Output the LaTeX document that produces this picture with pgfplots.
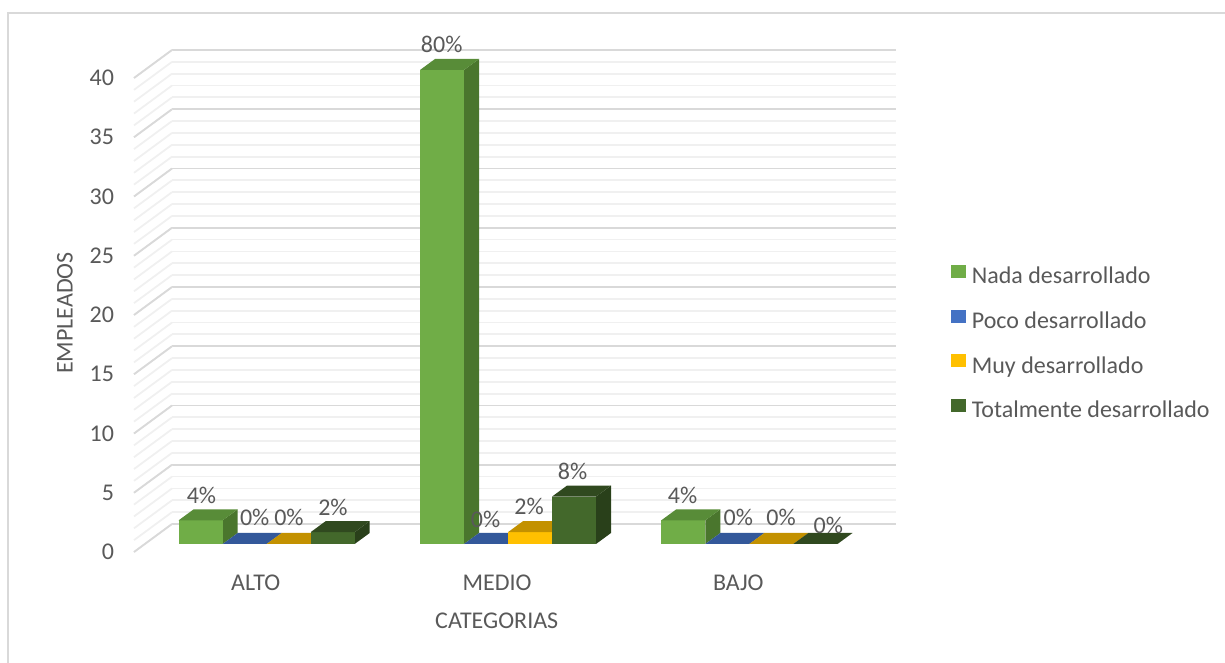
\documentclass[border=0pt]{standalone}
\usepackage{pgfplots}
\pgfplotsset{compat=1.18}
\usepackage{pgfplotstable}
\usepackage{fontspec}
\setmainfont{Carlito}

\definecolor{txt}{HTML}{595959}
\definecolor{marco}{HTML}{D9D9D9}
\definecolor{gmaj}{HTML}{D9D9D9}
\definecolor{gmin}{HTML}{F0F0F0}
% front / top / side shades of each series
\definecolor{nadaF}{HTML}{70AD47}\definecolor{nadaT}{HTML}{588C38}\definecolor{nadaS}{HTML}{4A762D}
\definecolor{pocoF}{HTML}{4472C4}\definecolor{pocoT}{HTML}{33589A}\definecolor{pocoS}{HTML}{2F5190}
\definecolor{muyF}{HTML}{FFC000}\definecolor{muyT}{HTML}{C39100}\definecolor{muyS}{HTML}{B08000}
\definecolor{totF}{HTML}{43682B}\definecolor{totT}{HTML}{30491F}\definecolor{totS}{HTML}{29401A}

% x = category (0 ALTO, 1 MEDIO, 2 BAJO), v = employees, pct = share,
% lx/ly = placement of the value label
\pgfplotstableread{
x v pct lx ly
0 2 4 -12.6 2.65
1 40 80 -13.15 3
2 2 4 -13.4 2.65
}\nada
\pgfplotstableread{
x v pct lx ly
0 0 0 -8 3.25
1 0 0 -13.25 2.25
2 0 0 -7.5 3.25
}\poco
\pgfplotstableread{
x v pct lx ly
0 0 0 -12.85 3.25
1 1 2 -13.5 2.75
2 0 0 -8.15 3.25
}\muy
\pgfplotstableread{
x v pct lx ly
0 1 2 -12.85 2.5
1 4 8 -13.75 2.5
2 0 0 -6.5 -0.75
}\total

% a 3-D column as a plot mark: the mark sits on the back plane at the
% column's value; the height comes from \valor (5.925pt per employee)
\newcommand{\declcaja}[4]{%
  \pgfdeclareplotmark{#1}{%
    \pgfmathsetlengthmacro\yf{-10pt-\valor*5.925pt}%
    \pgfmathsetlengthmacro\ys{-4.5pt-\valor*5.925pt}%
    \pgfsetfillcolor{#4}%
    \pgfpathmoveto{\pgfpoint{-2pt}{-10pt}}%
    \pgfpathlineto{\pgfpoint{5.5pt}{-4.5pt}}%
    \pgfpathlineto{\pgfpoint{5.5pt}{\ys}}%
    \pgfpathlineto{\pgfpoint{-2pt}{\yf}}%
    \pgfpathclose\pgfusepath{fill}%
    \pgfsetfillcolor{#2}%
    \pgfpathrectanglecorners{\pgfpoint{-24pt}{-10pt}}{\pgfpoint{-2pt}{\yf}}%
    \pgfusepath{fill}%
    \pgfsetfillcolor{#3}%
    \pgfpathmoveto{\pgfpoint{-24pt}{-10pt}}%
    \pgfpathlineto{\pgfpoint{-2pt}{-10pt}}%
    \pgfpathlineto{\pgfpoint{5.5pt}{-4.5pt}}%
    \pgfpathlineto{\pgfpoint{-16.5pt}{-4.5pt}}%
    \pgfpathclose\pgfusepath{fill}%
  }%
}
\declcaja{cajaNada}{nadaF}{nadaT}{nadaS}
\declcaja{cajaPoco}{pocoF}{pocoT}{pocoS}
\declcaja{cajaMuy}{muyF}{muyT}{muyS}
\declcaja{cajaTotal}{totF}{totT}{totS}

\pgfplotsset{
  columna/.style n args={3}{
    scatter, only marks, mark=#1,
    point meta=explicit,
    visualization depends on={\thisrow{v} \as \valor},
    x filter/.expression={x+#3},
    legend image code/.code={\fill[#2] (0pt,0.2pt) rectangle (7pt,6.2pt);},
  },
  % value labels, drawn after all columns so that none is hidden
  etiqueta/.style={
    draw=none, mark=none, forget plot,
    point meta=explicit,
    visualization depends on={\thisrow{lx} \as \lx},
    visualization depends on={\thisrow{ly} \as \ly},
    x filter/.expression={x+#1},
    nodes near coords={\pgfmathprintnumber{\pgfplotspointmeta}\%},
    every node near coord/.append style={anchor=center, text=txt,
      font=\fontsize{12}{14}\selectfont, xshift=\lx*1pt, yshift=\ly*1pt},
  },
}

\begin{document}
\begin{tikzpicture}
\path[use as bounding box] (-86pt,-69.5pt) rectangle (526.5pt,262pt);
\draw[line width=1pt, marco] (-82pt,-69.5pt) -- (-82pt,255.5pt) -- (526.5pt,255.5pt);
\begin{axis}[
  at={(0pt,0pt)}, anchor=south west,
  scale only axis, width=362pt, height=237pt,
  xmin=-0.5, xmax=2.5, ymin=0, ymax=40,
  enlargelimits=false, clip=false,
  axis line style={draw=none},
  major tick length=0pt, minor tick length=0pt,
  xtick={0,1,2}, xticklabels={ALTO,MEDIO,BAJO},
  ytick={0,5,...,40}, minor y tick num=4,
  ymajorgrids, yminorgrids,
  major grid style={gmaj, line width=0.9pt},
  minor grid style={gmin, line width=0.9pt},
  /pgf/number format/assume math mode=true,
  tick label style={text=txt, font=\fontsize{12}{14}\selectfont},
  yticklabel style={anchor=east, xshift=-25.5pt, yshift=-14pt},
  xticklabel style={anchor=center, xshift=-18.5pt, yshift=-29.5pt},
  ylabel={EMPLEADOS}, xlabel={CATEGORIAS},
  every axis y label/.style={at={(rel axis cs:-0.148,0.445)}, rotate=90,
    anchor=center, text=txt, font=\fontsize{12}{14}\selectfont},
  every axis x label/.style={at={(rel axis cs:0.4485,-0.2046)},
    anchor=center, text=txt, font=\fontsize{12}{14}\selectfont},
  legend style={at={(rel axis cs:1.076,0.5464)}, anchor=north west,
    draw=none, fill=none, inner sep=0pt, outer sep=0pt,
    row sep=10.45pt, text=txt, font=\fontsize{12}{14}\selectfont,
    nodes={inner xsep=3pt, inner ysep=0pt, text height=8.5pt, text depth=2.5pt}},
  legend cell align=left,
]
% receding ends of the gridlines on the side wall
\pgfplotsinvokeforeach{0,...,40}{\draw[gmin, line width=0.9pt] (axis cs:-0.5,#1) -- ++(-19pt,-14pt);}
\pgfplotsinvokeforeach{0,5,...,40}{\draw[gmaj, line width=0.9pt] (axis cs:-0.5,#1) -- ++(-19pt,-14pt);}

\addplot[columna={cajaNada}{nadaF}{-0.27348}] table[x=x, y=v, meta=pct] {\nada};
\addlegendentry{Nada desarrollado}
\addplot[columna={cajaPoco}{pocoF}{-0.09116}] table[x=x, y=v, meta=pct] {\poco};
\addlegendentry{Poco desarrollado}
\addplot[columna={cajaMuy}{muyF}{0.09116}] table[x=x, y=v, meta=pct] {\muy};
\addlegendentry{Muy desarrollado}
\addplot[columna={cajaTotal}{totF}{0.27348}] table[x=x, y=v, meta=pct] {\total};
\addlegendentry{Totalmente desarrollado}

\addplot[etiqueta=-0.27348] table[x=x, y=v, meta=pct] {\nada};
\addplot[etiqueta=-0.09116] table[x=x, y=v, meta=pct] {\poco};
\addplot[etiqueta=0.09116] table[x=x, y=v, meta=pct] {\muy};
\addplot[etiqueta=0.27348] table[x=x, y=v, meta=pct] {\total};
\end{axis}
\end{tikzpicture}
\end{document}
